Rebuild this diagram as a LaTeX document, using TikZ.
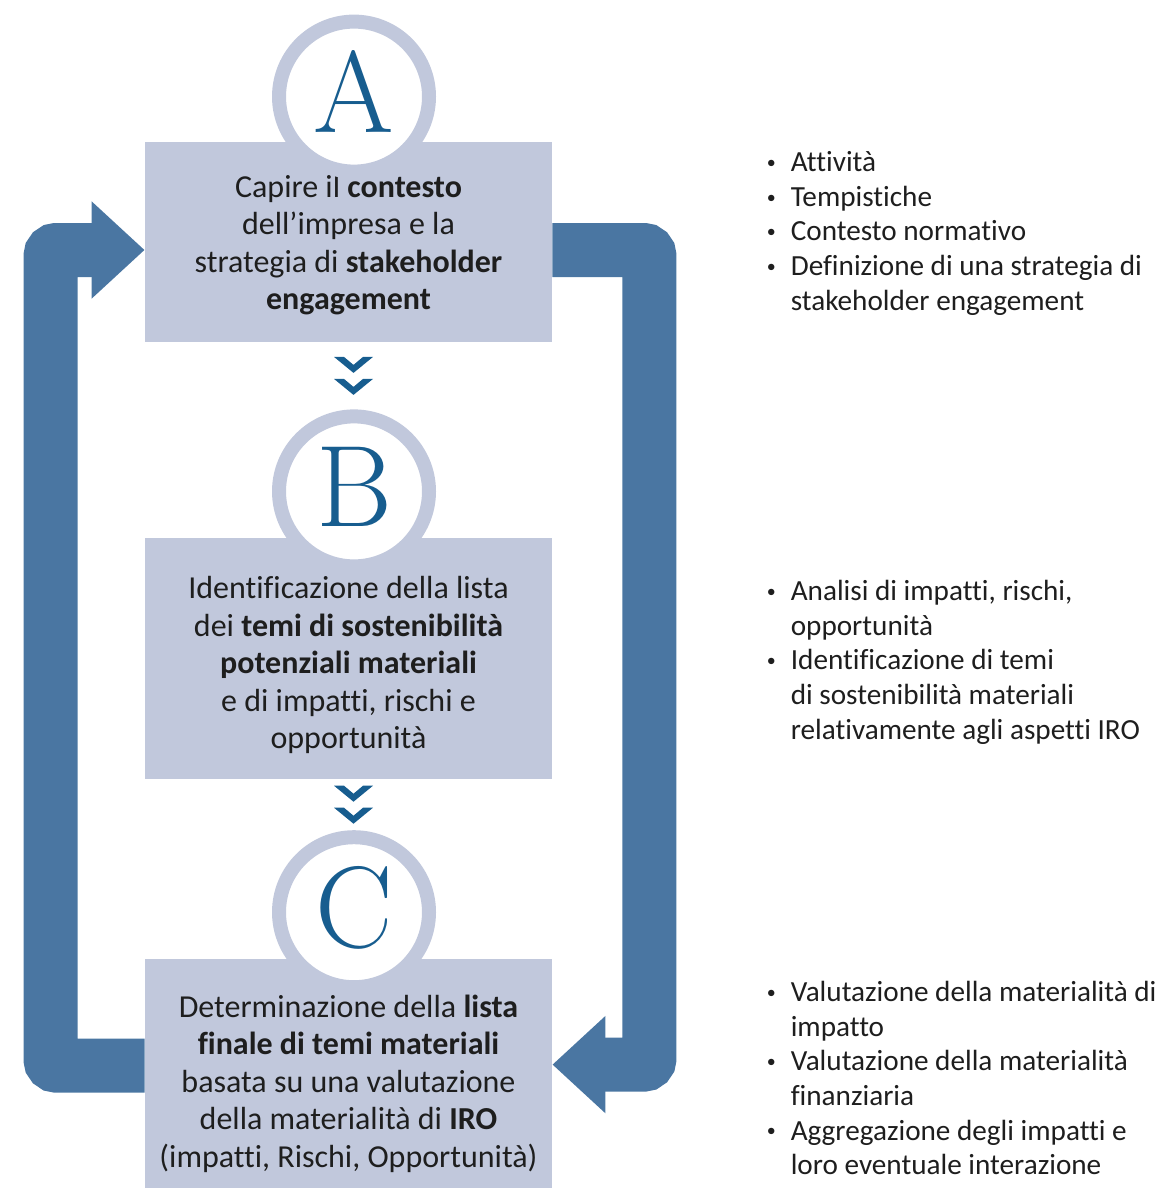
\documentclass[tikz,border=0pt]{standalone}
\usepackage{fontspec}
\setsansfont[Ligatures=NoCommon]{Carlito}
\usepackage{xcolor}
\usetikzlibrary{arrows.meta, positioning, calc}

\definecolor{boxgray}{HTML}{C1C8DC}
\definecolor{loopblue}{HTML}{4A76A2}
\definecolor{letterblue}{HTML}{175D8F}
\definecolor{txtdark}{HTML}{1E1E1E}

\newcommand{\bul}{\makebox[12pt][l]{\raisebox{1.6pt}{\fontsize{9}{9}\selectfont\textbullet}}}

\begin{document}
\begin{tikzpicture}[
    x=0.5pt, y=-0.5pt,
    phase/.style={rectangle, fill=boxgray, minimum width=203.5pt, minimum height=#1, inner sep=0pt},
    phasetext/.style={align=center, inner sep=0pt, font=\fontsize{16}{18.75}\selectfont\sffamily, text=txtdark},
    badge/.style={circle, draw=boxgray, line width=7pt, fill=white, minimum size=75pt, inner sep=0pt, font=\fontsize{58}{58}\selectfont\rmfamily, text=letterblue},
    notes/.style={anchor=west, inner sep=0pt, font=\fontsize{14.6}{17.35}\selectfont\sffamily, text=txtdark},
    cyclearrow/.style={line width=27pt, draw=loopblue, rounded corners=3pt, -{Triangle[width=47pt, length=26.5pt]}},
    chevron/.style={fill=letterblue}
]
    \useasboundingbox (0,0) rectangle (1160,1188);

    % Phase boxes
    \node[phase=100pt] (boxA) at (348.5,242) {};
    \node[phase=120.5pt, below=97.5pt of boxA] (boxB) {};
    \node[phase=115pt, below=89.5pt of boxB] (boxC) {};

    \node[phasetext] (txtA) at ($(boxA.center)+(0,3)$) {Capire il \textbf{contesto}\\dell’impresa e la\\strategia di \textbf{stakeholder}\\\textbf{engagement}};
    \node[phasetext] (txtB) at ($(boxB.center)+(0,7)$) {Identificazione della lista\\dei \textbf{temi di sostenibilità}\\\textbf{potenziali materiali}\\e di impatti, rischi e\\opportunità};
    \node[phasetext] (txtC) at ($(boxC.center)+(0,10)$) {Determinazione della \textbf{lista}\\\textbf{finale di temi materiali}\\basata su una valutazione\\della materialità di \textbf{IRO}\\(impatti, Rischi, Opportunità)};

    % Letter badges
    \node[badge] (circA) at ($(boxA.north)+(5.5,-45)$) {\raisebox{5pt}{A}};
    \node[badge] (circB) at ($(boxB.north)+(5.5,-46)$) {\raisebox{5pt}{B}};
    \node[badge] (circC) at ($(boxC.north)+(5.5,-46)$) {\raisebox{5pt}{C}};

    % Chevrons between phases
    \coordinate (gapAB) at ($(circB.north)!0.5!(circB.north |- boxA.south)$);
    \coordinate (gapBC) at ($(circC.north)!0.5!(circC.north |- boxB.south)$);
    \foreach \g in {gapAB, gapBC}
        \foreach \t in {-19,3}
            \fill[chevron] ($(\g)+(-20,\t)$) -- ++(10,0) -- ++(9.5,8) -- ++(9.5,-8) -- ++(10,0) -- ++(-19.5,16) -- cycle;

    % Feedback loop
    \draw[cyclearrow] ($(boxC.west)+(0,-8)$) -- ++(-94,0) |- ($(boxA.west)+(0,8)$);
    \draw[cyclearrow] ($(boxA.east)+(0,8)$) -- ++(97,0) |- ($(boxC.east)+(0,-9)$);

    % Notes
    \node[notes, right=107pt of boxA, yshift=4pt] (notesA) {\begin{tabular}{@{}l@{}l@{}}
        \bul & Attività\\
        \bul & Tempistiche\\
        \bul & Contesto normativo\\
        \bul & Definizione di una strategia di\\
             & stakeholder engagement
    \end{tabular}};
    \node[notes, right=107pt of boxB, yshift=-2.25pt] (notesB) {\begin{tabular}{@{}l@{}l@{}}
        \bul & Analisi di impatti, rischi,\\
             & opportunità\\
        \bul & Identificazione di temi\\
             & di sostenibilità materiali\\
             & relativamente agli aspetti IRO
    \end{tabular}};
    \node[notes, right=107pt of boxC, yshift=-3.75pt] (notesC) {\begin{tabular}{@{}l@{}l@{}}
        \bul & Valutazione della materialità di\\
             & impatto\\
        \bul & Valutazione della materialità\\
             & finanziaria\\
        \bul & Aggregazione degli impatti e\\
             & loro eventuale interazione
    \end{tabular}};
\end{tikzpicture}
\end{document}
